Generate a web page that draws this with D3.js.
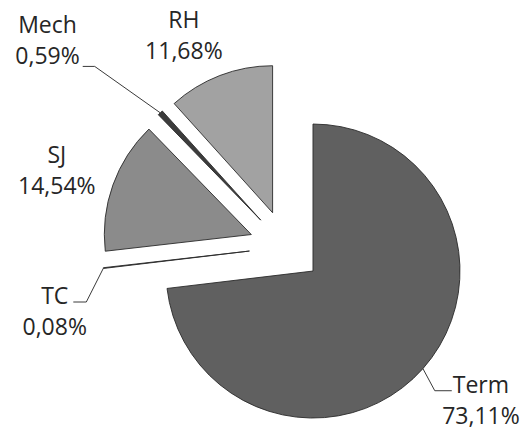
<!DOCTYPE html>
<html>
<head>
<meta charset="utf-8">
<script src="https://cdn.jsdelivr.net/npm/d3@7/dist/d3.min.js"></script>
<style>
  html, body { margin: 0; padding: 0; background: #fff; }
  svg { display: block; }
  text { font-family: "Open Sans", "DejaVu Sans", sans-serif; font-size: 23px; fill: #262626; }
</style>
</head>
<body>
<svg id="chart" width="527" height="431"></svg>
<script>
// Share of each category, in percent, clockwise from 12 o'clock
const categories = ["Term", "TC", "SJ", "Mech", "RH"];
const shares = [73.11, 0.08, 14.54, 0.59, 11.68];
const shareLabels = ["73,11%", "0,08%", "14,54%", "0,59%", "11,68%"];

const fills = {
  Term: "#606060",
  TC: "#555555",
  SJ: "#8b8b8b",
  Mech: "#3c3c3c",
  RH: "#a2a2a2"
};

// Label placement around the pie: angular nudge (deg) and distance from centre
const labelLayout = {
  Term: { nudge: -2.1, dist: 253, leader: "left" },
  TC:   { nudge: -10.7, dist: 242, leader: "right1" },
  SJ:   { nudge: -2.9, dist: 239, leader: null },
  Mech: { nudge: -7.1, dist: 310, leader: "right2" },
  RH:   { nudge: -5.5, dist: 228, leader: null }
};

const width = 527, height = 431;
const cx = 285.7, cy = 246.8;
const radius = 147;
const explode = 36.5;
const lineGap = 31;

const svg = d3.select("#chart");

const rows = categories.map((c, i) => ({ name: c, value: shares[i], label: shareLabels[i] }));

const pie = d3.pie().value(d => d.value).sort(null).startAngle(0).endAngle(2 * Math.PI);
const arc = d3.arc().innerRadius(0).outerRadius(radius);
const arcs = pie(rows);

const dir = a => [Math.sin(a), -Math.cos(a)];

const g = svg.append("g").attr("transform", `translate(${cx},${cy})`);

// Exploded slices
arcs.forEach(a => {
  const mid = (a.startAngle + a.endAngle) / 2;
  const [ux, uy] = dir(mid);
  g.append("path")
    .attr("d", arc(a))
    .attr("transform", `translate(${ux * explode},${uy * explode})`)
    .attr("fill", fills[a.data.name])
    .attr("stroke", "#2a2a2a")
    .attr("stroke-width", 0.9)
    .attr("stroke-linejoin", "miter");
});

// Data labels with leader lines
arcs.forEach(a => {
  const mid = (a.startAngle + a.endAngle) / 2;
  const lay = labelLayout[a.data.name];
  const la = mid + lay.nudge * Math.PI / 180;
  const [lx, ly] = dir(la);
  const px = lx * lay.dist, py = ly * lay.dist;

  const t = g.append("text").attr("text-anchor", "middle");
  t.append("tspan").attr("x", px).attr("y", py - 15).text(a.data.name);
  t.append("tspan").attr("x", px).attr("y", py - 15 + lineGap).text(a.data.label);

  if (lay.leader) {
    const [ux, uy] = dir(mid);
    const ox = ux * (explode + radius), oy = uy * (explode + radius);
    let hx, hy, ex;
    if (lay.leader === "left") {
      const w1 = t.select("tspan").node().getComputedTextLength();
      hx = px - w1 / 2 - 1;
      hy = py - 17;
      ex = hx - 17;
    } else if (lay.leader === "right1") {
      const w1 = t.select("tspan").node().getComputedTextLength();
      hx = px + w1 / 2 + 5;
      hy = py - 17;
      ex = hx + 13;
    } else {
      const w2 = t.selectAll("tspan").nodes()[1].getComputedTextLength();
      hx = px + w2 / 2 + 3;
      hy = py + 18;
      ex = hx + 12;
    }
    g.append("polyline")
      .attr("points", [[hx, hy], [ex, hy], [ox, oy]].map(p => p.join(",")).join(" "))
      .attr("fill", "none")
      .attr("stroke", "#3a3a3a")
      .attr("stroke-width", 1);
  }
});
</script>
</body>
</html>
